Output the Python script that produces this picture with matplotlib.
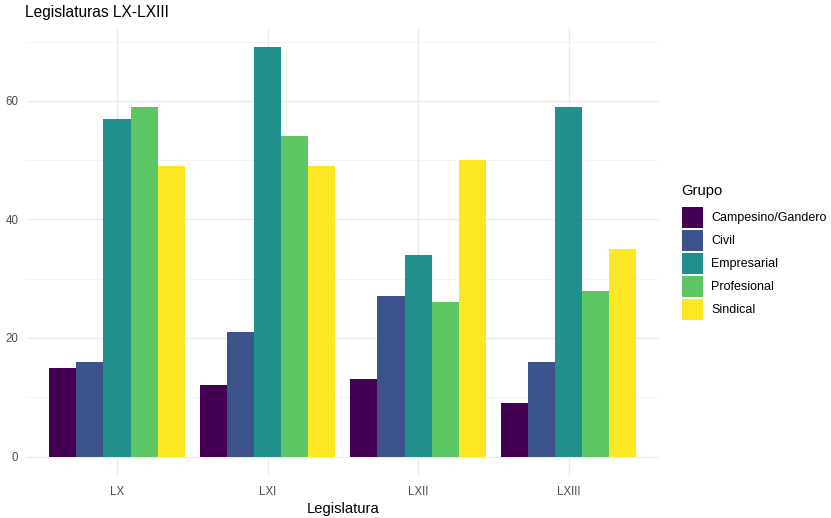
import matplotlib
matplotlib.use("Agg")
import matplotlib.pyplot as plt
from matplotlib.patches import Patch
import numpy as np

legislaturas = ["LX", "LXI", "LXII", "LXIII"]
grupos = ["Campesino/Gandero", "Civil", "Empresarial", "Profesional", "Sindical"]
campesino = [15, 12, 13, 9]
civil = [16, 21, 27, 16]
empresarial = [57, 69, 34, 59]
profesional = [59, 54, 26, 28]
sindical = [49, 49, 50, 35]
colores = ["#440154", "#3B528B", "#21908C", "#5DC863", "#FDE725"]

series = [campesino, civil, empresarial, profesional, sindical]

plt.rcParams['font.family'] = ['Liberation Sans', 'DejaVu Sans']

W, H = 831, 518
fig = plt.figure(figsize=(W/100, H/100), dpi=100)
# panel in pixels
left, right, top, bottom = 26.7, 659, 27, 477
ax = fig.add_axes([left/W, 1-bottom/H, (right-left)/W, (bottom-top)/H])

x = np.arange(1, len(legislaturas)+1)
n = len(series)
bw = 0.9 / n
for i, (vals, col) in enumerate(zip(series, colores)):
    ax.bar(x - 0.45 + bw*(i+0.5), vals, width=bw, color=col, zorder=3, linewidth=0)

ymax = max(max(s) for s in series)
ax.set_ylim(-0.05*ymax, 1.05*ymax)
ax.set_xlim(0.4, len(legislaturas)+0.6)
ax.set_xticks(x)
ax.set_xticklabels(legislaturas)
ax.set_yticks([0, 20, 40, 60])
ax.set_yticks([10, 30, 50, 70], minor=True)
ax.grid(True, which='major', color='#EBEBEB', linewidth=1.0, zorder=0)
ax.grid(True, which='minor', axis='y', color='#F2F2F2', linewidth=0.6, zorder=0)
for s in ax.spines.values():
    s.set_visible(False)
ax.tick_params(which='both', length=0, labelsize=8.3, labelcolor='#4D4D4D')
ax.tick_params(axis='x', pad=6.5)
ax.tick_params(axis='y', pad=6)
ax.set_xlabel("Legislatura", fontsize=10.6, color='black', labelpad=3)

fig.text(25/W, 1-13/H, "Legislaturas LX-LXIII", fontsize=11.2, ha='left', va='center', color='black')

handles = [Patch(facecolor=c, edgecolor='none', linewidth=0.0) for c in colores]
leg = fig.legend(handles, grupos, title="Grupo", loc='upper left',
                 bbox_to_anchor=(681.5/W, 1-184.5/H), frameon=False,
                 fontsize=9, title_fontsize=10.6, handlelength=1.68, handleheight=2.21,
                 labelspacing=0.16, handletextpad=0.68, borderaxespad=0, borderpad=0)
leg._legend_box.align = "left"
leg._legend_box.sep = 5.8

fig.savefig("out.png", dpi=100, facecolor='white')
